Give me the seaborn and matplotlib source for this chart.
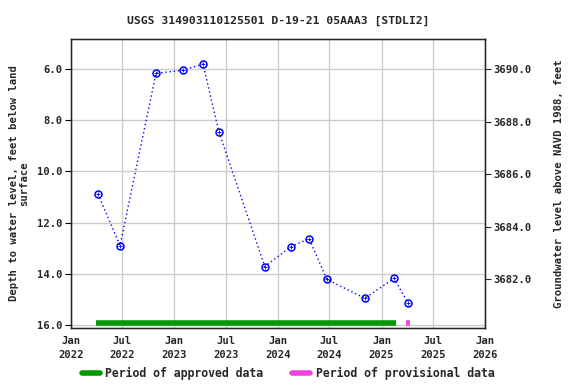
import matplotlib
matplotlib.use("Agg")
import matplotlib.pyplot as plt
import seaborn as sns
import pandas as pd
from matplotlib.lines import Line2D

dates = ["2022-04-06", "2022-06-23", "2022-10-28", "2023-02-01", "2023-04-12",
         "2023-06-07", "2023-11-16", "2024-02-16", "2024-04-20", "2024-06-22",
         "2024-11-03", "2025-02-14", "2025-04-05"]
depth = [10.88, 12.90, 6.17, 6.05, 5.81, 8.46, 13.72, 12.94, 12.63, 14.22, 14.96, 14.18, 15.16]
approved_period = ["2022-03-30", "2025-02-20"]
provisional_period = ["2025-03-29", "2025-04-13"]
xtick_dates = ["2022-01-01", "2022-07-01", "2023-01-01", "2023-07-01", "2024-01-01",
               "2024-07-01", "2025-01-01", "2025-07-01", "2026-01-01"]
xtick_labels = ["Jan\n2022", "Jul\n2022", "Jan\n2023", "Jul\n2023", "Jan\n2024",
                "Jul\n2024", "Jan\n2025", "Jul\n2025", "Jan\n2026"]
left_ticks = [6, 8, 10, 12, 14, 16]
right_ticks = [3682, 3684, 3686, 3688, 3690]

sns.set_style("white")
plt.rcParams['font.family'] = ['DejaVu Sans Mono']
plt.rcParams['font.weight'] = 'bold'
FS = 7.6

df = pd.DataFrame({"date": pd.to_datetime(dates), "depth": depth})

fig = plt.figure(figsize=(5.76, 3.84), dpi=100)
ax = fig.add_axes([71/576, 56/384, 414/576, 289/384])

sns.lineplot(data=df, x="date", y="depth", ax=ax, color="blue", linestyle=(0, (1, 2)),
             linewidth=1, marker="o", markersize=5, markerfacecolor="none",
             markeredgecolor="blue", markeredgewidth=1.1)
ax.plot(df["date"], df["depth"], linestyle="none", marker="+", markersize=2.5,
        color="blue", markeredgewidth=0.6)

ap = pd.to_datetime(approved_period)
pp = pd.to_datetime(provisional_period)
ax.plot(ap, [15.93, 15.93], color="#009900", linewidth=4, solid_capstyle="butt")
ax.plot(pp, [15.93, 15.93], color="#ee44dd", linewidth=4, solid_capstyle="butt")

ax.set_xlim(pd.Timestamp("2022-01-01"), pd.Timestamp("2026-01-01"))
ax.set_ylim(16.12, 4.83)
ax.set_xticks(pd.to_datetime(xtick_dates))
ax.set_xticklabels(xtick_labels, linespacing=1.45)
ax.set_yticks(left_ticks)
ax.set_yticklabels([f"{v:.1f}" for v in left_ticks])
ax.grid(True, color="#cccccc", linewidth=1)
for s in ax.spines.values():
    s.set_color("black")
    s.set_linewidth(1)
ax.tick_params(axis="both", labelsize=FS, length=4, direction="out", color="black", pad=2)
ax.set_xlabel("")
ax.set_ylabel("Depth to water level, feet below land\nsurface", fontsize=FS,
              fontweight="bold", linespacing=1.0, labelpad=6)
ax.set_title("USGS 314903110125501 D-19-21 05AAA3 [STDLI2]", fontsize=8.2,
             fontweight="bold", pad=11)

ax2 = ax.twinx()
ax2.set_ylim(3680.14, 3691.15)
ax2.set_yticks(right_ticks)
ax2.set_yticklabels([f"{v:.1f}" for v in right_ticks])
ax2.tick_params(axis="y", labelsize=FS, length=4, pad=2)
ax2.set_ylabel("Groundwater level above NAVD 1988, feet", fontsize=FS,
               fontweight="bold", labelpad=16)

handles = [Line2D([0], [0], color="#009900", linewidth=4),
           Line2D([0], [0], color="#ee44dd", linewidth=4)]
fig.legend(handles, ["Period of approved data", "Period of provisional data"],
           loc="center", bbox_to_anchor=(0.5, 11/384), ncol=2, frameon=False,
           fontsize=8.3, handlelength=1.56, columnspacing=2.5, handletextpad=0.48)

fig.savefig("out.png", dpi=100)
